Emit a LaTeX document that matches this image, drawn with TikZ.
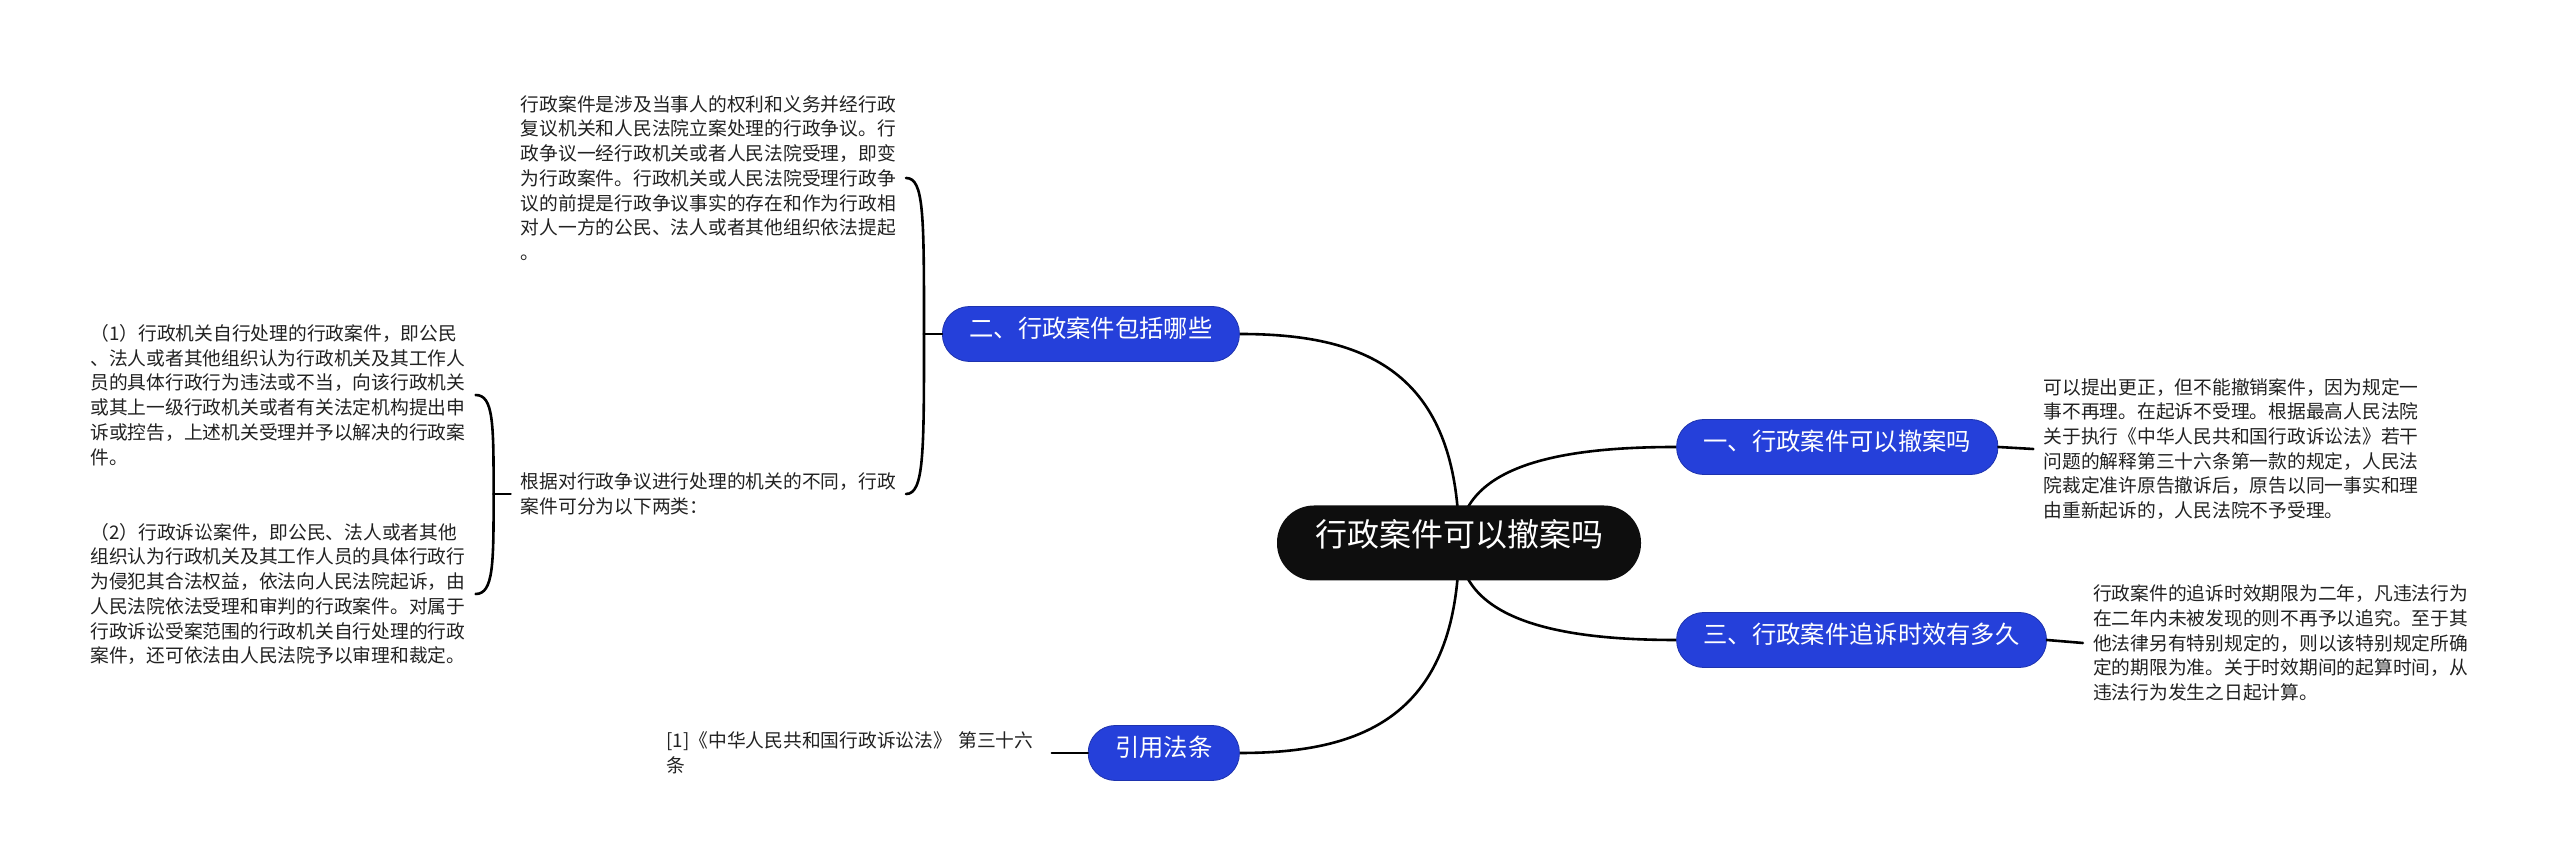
\documentclass[tikz,border=0pt]{standalone}
\usepackage{fontspec}
\setmainfont{Noto Sans CJK SC}
\definecolor{BranchBlue}{RGB}{37,64,218}
\definecolor{RootBlack}{RGB}{14,14,14}
\definecolor{LeafText}{RGB}{34,34,34}
\usetikzlibrary{positioning,backgrounds}

\newcommand\leaffont{\fontsize{18.75pt}{24.7pt}\selectfont}
\newcommand\branchfont{\fontsize{24.3pt}{29pt}\selectfont}
\newcommand\rootfont{\fontsize{32pt}{38pt}\selectfont}

\begin{document}
\begin{tikzpicture}[x=1pt, y=1pt,
      root/.style  ={fill=RootBlack, text=white, font=\rootfont, rounded corners=37pt,
                     minimum height=75pt, inner xsep=38pt, text height=0.8em, text depth=0.05em},
      branch/.style={fill=BranchBlue, draw=BranchBlue!80!black, line width=0.8pt, text=white,
                     font=\branchfont, rounded corners=27pt, minimum height=55pt, inner xsep=27pt,
                     text height=0.8em, text depth=0.05em},
      leaf/.style  ={font=\leaffont, text=LeafText, text width=375pt, align=left, inner sep=10pt},
      link/.style  ={line width=2.6pt, line cap=round, black},
  ]
  \useasboundingbox (0,0) rectangle (2560,867);

  % ─ Root ─
  \node[root] at (1459,324) (root) {行政案件可以撤案吗};

  % ─ Branches ─
  \node[branch, right=35pt of root, yshift=96pt]   (q1)   {一、行政案件可以撤案吗};
  \node[branch, right=35pt of root, yshift=-97pt]  (q3)   {三、行政案件追诉时效有多久};
  \node[branch, left=37pt of root, yshift=209pt]   (q2)   {二、行政案件包括哪些};
  \node[branch, left=37pt of root, yshift=-210pt]  (cite) {引用法条};

  % ─ Right leaves ─
  \node[leaf, right=35pt of q1, yshift=-2pt] (a1)
        {可以提出更正，但不能撤销案件，因为规定一\\事不再理。在起诉不受理。根据最高人民法院\\关于执行《中华人民共和国行政诉讼法》若干\\问题的解释第三十六条第一款的规定，人民法\\院裁定准许原告撤诉后，原告以同一事实和理\\由重新起诉的，人民法院不予受理。};
  \node[leaf, right=36pt of q3, yshift=-3pt] (a3)
        {行政案件的追诉时效期限为二年，凡违法行为\\在二年内未被发现的则不再予以追究。至于其\\他法律另有特别规定的，则以该特别规定所确\\定的期限为准。关于时效期间的起算时间，从\\违法行为发生之日起计算。};

  % ─ Left leaves ─
  \node[leaf, left=36pt of q2, yshift=156pt] (d2)
        {行政案件是涉及当事人的权利和义务并经行政\\复议机关和人民法院立案处理的行政争议。行\\政争议一经行政机关或者人民法院受理，即变\\为行政案件。行政机关或人民法院受理行政争\\议的前提是行政争议事实的存在和作为行政相\\对人一方的公民、法人或者其他组织依法提起\\。};
  \node[leaf, left=36pt of q2, yshift=-160pt] (k2)
        {根据对行政争议进行处理的机关的不同，行政\\案件可分为以下两类：};
  \node[leaf, left=35pt of k2, yshift=99pt] (k21)
        {（1）行政机关自行处理的行政案件，即公民\\、法人或者其他组织认为行政机关及其工作人\\员的具体行政行为违法或不当，向该行政机关\\或其上一级行政机关或者有关法定机构提出申\\诉或控告，上述机关受理并予以解决的行政案\\件。};
  \node[leaf, left=35pt of k2, yshift=-100pt] (k22)
        {（2）行政诉讼案件，即公民、法人或者其他\\组织认为行政机关及其工作人员的具体行政行\\为侵犯其合法权益，依法向人民法院起诉，由\\人民法院依法受理和审判的行政案件。对属于\\行政诉讼受案范围的行政机关自行处理的行政\\案件，还可依法由人民法院予以审理和裁定。};
  \node[leaf, left=36pt of cite] (acite)
        {[1]《中华人民共和国行政诉讼法》 第三十六\\条};

  % ─ Root → branches (behind the nodes) ─
  \begin{scope}[on background layer]
    \fill[white] (0,0) rectangle (2560,867);
    \draw[link] (root.center) .. controls +(0,175) and +(121,0) .. (q2.east);
    \draw[link] (root.center) .. controls +(0,-175) and +(121,0) .. (cite.east);
    \draw[link] (root.center) .. controls +(0,80) and +(-110,0) .. (q1.west);
    \draw[link] (root.center) .. controls +(0,-80) and +(-110,0) .. (q3.west);
  \end{scope}

  % ─ Branches → leaves ─
  \draw[link] (q1.east) -- (a1.west);
  \draw[link] (q3.east) -- (a3.west);
  \draw[link] (cite.west) -- (acite.east);

  % ─ Brackets on the left ─
  \draw[link] (q2.west) -- ++(-18,0) coordinate (j2);
  \draw[link] (j2) .. controls +(0,120) and +(18,0) .. (d2.east);
  \draw[link] (j2) .. controls +(0,-120) and +(18,0) .. (k2.east);
  \draw[link] (k2.west) -- ++(-17,0) coordinate (j3);
  \draw[link] (j3) .. controls +(0,70) and +(18,0) .. (k21.east);
  \draw[link] (j3) .. controls +(0,-70) and +(18,0) .. (k22.east);
\end{tikzpicture}
\end{document}
